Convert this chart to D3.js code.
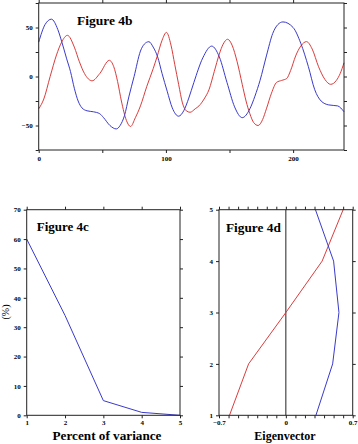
<!DOCTYPE html>
<html><head><meta charset="utf-8">
<script src="https://cdn.jsdelivr.net/npm/d3@7"></script>
<style>
html,body{margin:0;padding:0;background:#fff;}
svg{display:block;}
</style></head>
<body>
<svg id="c" width="358" height="444"></svg>
<script>
// ---- Figure 4b: time series ----
const blueT = [0,5,10,15,18,22,25,28,31,34,38,43,48,51,56,61,64,67.4,71,75,80,83,86.6,90,93.5,97,101,105,110,114,118,122,129,136,142,148,154,160,166,170,174,179,184,188,192,200,206,212,217,222,228,235,240];
const blueV = [35,53,58.5,48,36,18,5,-12,-25,-32,-35,-36,-38,-42,-50,-53.5,-50,-40,-20,0,26,33,35.5,30,20,3,-15,-32,-40.5,-35,-22,-6,19,31,20,-6,-31,-42,-33,-20,-4,21,44,53,55.7,50,34,10,-13.5,-25,-29,-30,-36];
const redT = [0,4,9,14,18,22.6,28,32,36,42,48,55.5,59,62,65,69,72.2,76,80,85,90,93,97,100.4,104,107,110,113,116,119,123,126,130,134,138,142,145,148.5,152,156,160,163,166,169,172.5,176,179,183,187,191,195,198,202,206,210.5,215,220,225,229.5,234,237,240];
const redV = [-33,-23,0,22,35,42,30,15,3,-4.4,3,16.5,10,-5,-25,-45,-51,-42,-30,-10,8,20,37,45,32,12,-8,-27,-35,-36.5,-33,-30,-23,-13,5,23,33,38,32,15,-8,-25,-38,-47,-50,-44,-33,-17,-6,-4,-2,6,21,31,35.6,28,10,-3,-8,-4,3,14];
const bTicksX = [0,50,100,150,200];
const bLabelsX = [0,100,200];
const bTicksY = [-75,-50,-25,0,25,50,75];
const bLabelsY = [-50,0,50];

// ---- Figure 4c: percent of variance ----
const modes = [1,2,3,4,5];
const variance = [60,34,5,1,0];
const cTicksY = [0,10,20,30,40,50,60,70];

// ---- Figure 4d: eigenvectors ----
const levels = [1,2,3,4,5];
const eofRed = [-0.59,-0.39,0.0,0.38,0.60];
const eofBlue = [0.315,0.49,0.556,0.50,0.31];
const dTicksX = d3.range(-7,8).map(d=>d/10);
const dLabelsX = [-0.7,0,0.7];

const FONT = '"Liberation Serif"';
const BLUE = "#3a3acb", RED = "#db3c3c", FRAME = "#222";
const svg = d3.select("#c");
const TL = 3;

function fmtOnly(list, f){ return d => list.some(v=>Math.abs(v-d)<1e-9) ? (f?f(d):String(d)) : ""; }
function styleAxis(g){
  g.select(".domain").remove();
  g.attr("font-family",null).attr("font-size",null);
  g.selectAll(".tick line").attr("stroke",FRAME).attr("stroke-width",1);
  g.selectAll(".tick text").attr("font-size","7px").attr("font-weight","bold")
   .style("font-family",FONT).attr("fill","#000");
}
function label(g, x, y, size, txt, anchor, bold){
  return g.append("text").attr("x",x).attr("y",y).attr("text-anchor",anchor||"start")
    .attr("font-size",size).attr("font-weight",bold===false?"normal":"bold")
    .style("font-family",FONT).attr("fill","#000").text(txt);
}
function frame(x0,y0,x1,y1){
  svg.append("rect").attr("x",x0).attr("y",y0).attr("width",x1-x0).attr("height",y1-y0)
    .attr("fill","none").attr("stroke",FRAME).attr("stroke-width",1);
}
function fmtDec(d){ return d===0 ? "0" : (d<0 ? "\u22120.7" : "0.7"); }

// ===== Panel b =====
{
  const x = d3.scaleLinear().domain([0,240]).range([38.7,344]);
  const y = d3.scaleLinear().domain([-75,75]).range([150,3]);
  const g = svg.append("g");
  const line = d3.line().curve(d3.curveMonotoneX);
  g.append("path").attr("d", line(redT.map((t,i)=>[x(t),y(redV[i])])))
    .attr("fill","none").attr("stroke",RED).attr("stroke-width",1);
  g.append("path").attr("d", line(blueT.map((t,i)=>[x(t),y(blueV[i])])))
    .attr("fill","none").attr("stroke",BLUE).attr("stroke-width",1);
  frame(x(0),y(75),x(240),y(-75));
  styleAxis(g.append("g").attr("transform",`translate(0,${y(-75)})`)
    .call(d3.axisBottom(x).tickValues(bTicksX).tickSize(TL).tickPadding(3).tickFormat(fmtOnly(bLabelsX))));
  styleAxis(g.append("g").attr("transform",`translate(0,${y(75)})`)
    .call(d3.axisTop(x).tickValues(bTicksX).tickSize(TL).tickFormat(()=>"")));
  styleAxis(g.append("g").attr("transform",`translate(${x(0)},0)`)
    .call(d3.axisLeft(y).tickValues(bTicksY).tickSize(TL).tickPadding(3).tickFormat(fmtOnly(bLabelsY,d=>d<0?"\u2212"+(-d):String(d)))));
  styleAxis(g.append("g").attr("transform",`translate(${x(240)},0)`)
    .call(d3.axisRight(y).tickValues(bTicksY).tickSize(TL).tickFormat(()=>"")));
  label(g,77,25,"13.5px","Figure 4b");
}

// ===== Panel c =====
{
  const x = d3.scaleLinear().domain([1,5]).range([26.7,180]);
  const y = d3.scaleLinear().domain([0,70]).range([415.3,209.7]);
  const g = svg.append("g");
  g.append("path").attr("d", d3.line()(modes.map((m,i)=>[x(m),y(variance[i])])))
    .attr("fill","none").attr("stroke",BLUE).attr("stroke-width",1);
  frame(x(1),y(70),x(5),y(0));
  styleAxis(g.append("g").attr("transform",`translate(0,${y(0)})`)
    .call(d3.axisBottom(x).tickValues(modes).tickSize(TL).tickPadding(2).tickFormat(d3.format("d"))));
  styleAxis(g.append("g").attr("transform",`translate(0,${y(70)})`)
    .call(d3.axisTop(x).tickValues(modes).tickSize(TL).tickFormat(()=>"")));
  styleAxis(g.append("g").attr("transform",`translate(${x(1)},0)`)
    .call(d3.axisLeft(y).tickValues(cTicksY).tickSize(TL).tickPadding(3).tickFormat(d3.format("d"))));
  styleAxis(g.append("g").attr("transform",`translate(${x(5)},0)`)
    .call(d3.axisRight(y).tickValues(cTicksY).tickSize(TL).tickFormat(()=>"")));
  label(g,36.7,230.5,"13px","Figure 4c");
  label(g,107,439.5,"13.2px","Percent of variance","middle");
  g.append("text").attr("transform","translate(8.5,312) rotate(-90)").attr("text-anchor","middle")
    .attr("font-size","10px").style("font-family",FONT).attr("fill","#000").text("(%)");
}

// ===== Panel d =====
{
  const x = d3.scaleLinear().domain([-0.7,0.7]).range([219,352.7]);
  const y = d3.scaleLinear().domain([1,5]).range([415.3,209.7]);
  const g = svg.append("g");
  g.append("line").attr("x1",x(0)).attr("x2",x(0)).attr("y1",y(1)).attr("y2",y(5)).attr("stroke",FRAME).attr("stroke-width",1);
  const line = d3.line();
  g.append("path").attr("d", line(levels.map((l,i)=>[x(eofRed[i]),y(l)])))
    .attr("fill","none").attr("stroke",RED).attr("stroke-width",1);
  g.append("path").attr("d", line(levels.map((l,i)=>[x(eofBlue[i]),y(l)])))
    .attr("fill","none").attr("stroke",BLUE).attr("stroke-width",1);
  frame(x(-0.7),y(5),x(0.7),y(1));
  styleAxis(g.append("g").attr("transform",`translate(0,${y(1)})`)
    .call(d3.axisBottom(x).tickValues(dTicksX).tickSize(TL).tickPadding(2).tickFormat(fmtOnly(dLabelsX,fmtDec))));
  styleAxis(g.append("g").attr("transform",`translate(0,${y(5)})`)
    .call(d3.axisTop(x).tickValues(dTicksX).tickSize(TL).tickFormat(()=>"")));
  styleAxis(g.append("g").attr("transform",`translate(${x(-0.7)},0)`)
    .call(d3.axisLeft(y).tickValues(levels).tickSize(TL).tickPadding(3).tickFormat(d3.format("d"))));
  styleAxis(g.append("g").attr("transform",`translate(${x(0.7)},0)`)
    .call(d3.axisRight(y).tickValues(levels).tickSize(TL).tickFormat(()=>"")));
  label(g,226,231.5,"13.3px","Figure 4d");
  label(g,285,439.5,"12px","Eigenvector","middle");
}
</script>
</body></html>
